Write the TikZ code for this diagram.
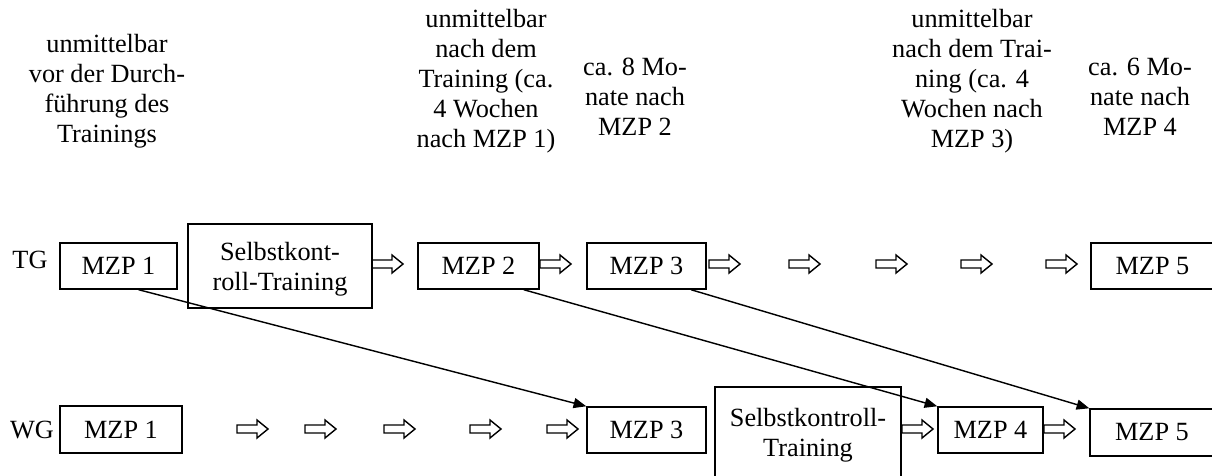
\documentclass[tikz,border=0pt]{standalone}
\usepackage{fontspec}
\setmainfont{Liberation Serif}
\usetikzlibrary{arrows.meta,calc}
\newcommand\pxlen{0.4566pt}
\begin{document}
\begin{tikzpicture}[x=0.4566pt,y=-0.4566pt,
  every node/.style={font=\fontsize{12pt}{13.7pt}\selectfont, inner sep=0pt},
  box/.style 2 args={draw, line width=0.65pt, align=center,
      minimum width={#1*\pxlen}, minimum height={#2*\pxlen}},
  head/.style={align=center, anchor=north},
  link/.style={line width=0.65pt, -{Triangle[length=5.8pt,width=4.6pt]}},
  hollow/.pic={\draw[line width=0.65pt, line join=miter]
      (0,-4) -- (20,-4) -- (20,-9) -- (31,0) -- (20,9) -- (20,4) -- (0,4) -- cycle;}
]
\useasboundingbox (0,0) rectangle (1212,475);

% column headings
\node[head] (h1) at (107,34)  {unmittelbar\\vor der Durch-\\führung des\\Trainings};
\node[head] (h2) at (486,9)   {unmittelbar\\nach dem\\Training (ca.\\4 Wochen\\nach MZP 1)};
\node[head] (h3) at (635,58)  {ca. 8 Mo-\\nate nach\\MZP 2};
\node[head] (h4) at (972,9)   {unmittelbar\\nach dem Trai-\\ning (ca. 4\\Wochen nach\\MZP 3)};
\node[head] (h5) at (1140,58) {ca. 6 Mo-\\nate nach\\MZP 4};

% group labels
\node[anchor=base] (tg) at (30,268) {TG};
\node[anchor=base] (wg) at (32,438) {WG};

% training group
\node[box={117}{46}] (tg1)  at (118.5,266) {MZP 1};
\node[box={184}{84}, text depth=0pt] (tgtr) at (280,266) {Selbstkont-\\roll-Training};
\node[box={121}{46}] (tg2)  at (478.5,266) {MZP 2};
\node[box={119}{46}] (tg3)  at (646.5,266) {MZP 3};
\node[box={123}{46}] (tg5)  at (1152.5,266) {MZP 5};

% waiting group
\node[box={122}{47}] (wg1)  at (121,429.5) {MZP 1};
\node[box={119}{46}] (wg3)  at (646.5,430) {MZP 3};
\node[box={186}{91}, text depth=0pt] (wgtr) at (808,432.5) {Selbstkontroll-\\Training};
\node[box={105}{46}] (wg4)  at (990.5,430) {MZP 4};
\node[box={124}{47}] (wg5)  at (1152,432.5) {MZP 5};

% hollow time arrows, training group
\pic (ta1) at (372,264) {hollow};
\pic (ta2) at (540,264) {hollow};
\pic (ta3) at (709,264) {hollow};
\pic (ta4) at (789,264) {hollow};
\pic (ta5) at (876,264) {hollow};
\pic (ta6) at (961,264) {hollow};
\pic (ta7) at (1046,264) {hollow};

% hollow time arrows, waiting group
\pic (wa1) at (237,429) {hollow};
\pic (wa2) at (305,429) {hollow};
\pic (wa3) at (384,429) {hollow};
\pic (wa4) at (470,429) {hollow};
\pic (wa5) at (547,429) {hollow};
\pic (wa6) at (902,429) {hollow};
\pic (wa7) at (1044,429) {hollow};

% matching measurement points across groups
\draw[link] ($(tg1.south west)!0.67!(tg1.south east)$) -- (wg3.north west);
\draw[link] ($(tg2.south west)!0.87!(tg2.south east)$) -- (wg4.north west);
\draw[link] ($(tg3.south west)!0.87!(tg3.south east)$) -- (wg5.north west);
\end{tikzpicture}
\end{document}
